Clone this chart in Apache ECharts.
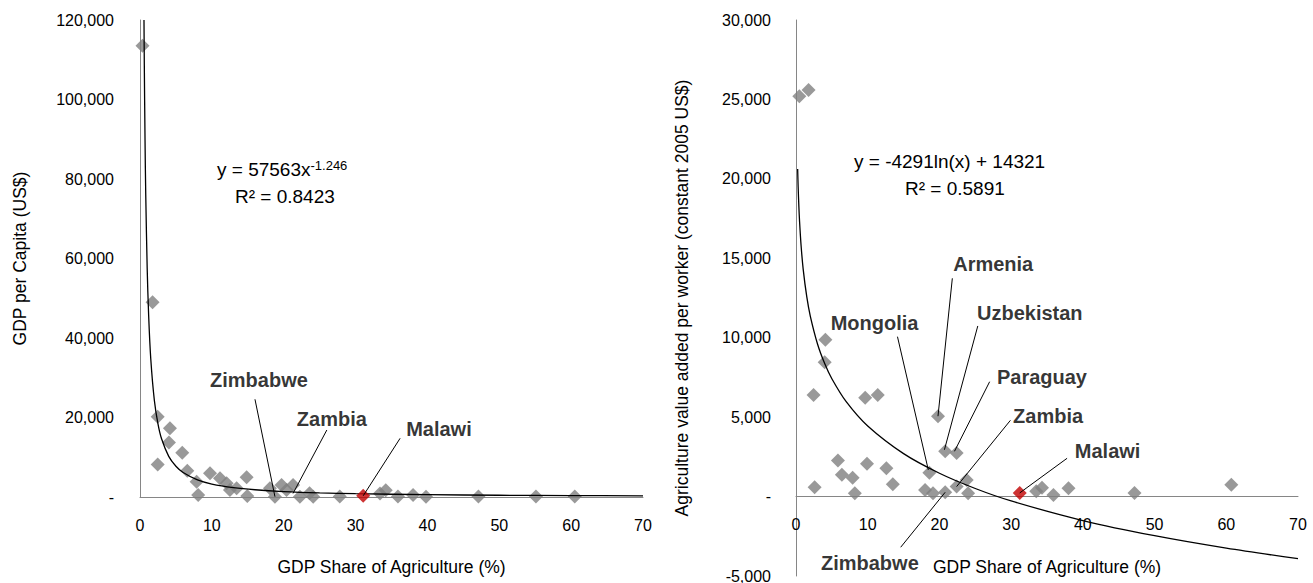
<!DOCTYPE html>
<html>
<head>
<meta charset="utf-8">
<title>GDP share of agriculture</title>
<style>
  html, body { margin: 0; padding: 0; background: #fff; }
  #main { width: 1313px; height: 583px; }
</style>
</head>
<body>
<div id="main"></div>
<script src="https://cdn.jsdelivr.net/npm/echarts@6/dist/echarts.min.js"></script>
<script>
// left panel: GDP per capita vs GDP share of agriculture
var leftPoints = [[0.35,113500],[1.75,49000],[2.46,20200],[2.46,8200],[4.17,17300],[4.03,13700],
  [5.88,11150],[6.58,6600],[7.88,3850],[8.1,500],[9.74,5960],[11.13,4700],[12.06,3440],[12.52,1760],
  [13.45,2180],[14.84,4950],[14.93,250],[18.08,2180],[18.78,80],[19.7,3020],[20.4,1760],[21.3,3020],
  [22.25,80],[23.6,930],[24.1,50],[27.8,100],[33.4,900],[34.2,1700],[35.9,100],[38,500],[39.8,50],
  [47.1,100],[55.1,100],[60.5,100]];
var leftMalawi = [[31.06,300]];
// power trendline
var leftTrendX = [0.555,0.6,0.7,0.8,1,1.2,1.5,2,2.5,3,4,5,6,8,10,13,16,20,25,30,40,50,60,70];
var leftTrendY = [120000,108800,89800,76000,57563,45870,34730,24270,18380,14640,10230,7750,6170,
  4315,3267,2357,1819,1377,1043,831,581,440,350,289];
var leftNotes = ['Zimbabwe','Zambia','Malawi'];
var leftNoteAt = [[16.55,29430],[26.7,19620],[41.6,17100]];
var leftLeaderFrom = [[16.0,24580],[26.0,16850],[36.2,14770]];
var leftLeaderTo = [[18.78,80],[21.3,900],[31.06,300]];

// right panel: agriculture value added per worker
var rightPoints = [[0.46,25200],[1.75,25600],[2.45,6400],[4.1,9870],[4.0,8460],[9.65,6215],
  [11.4,6400],[19.8,5060],[20.8,2850],[22.4,2750],[5.85,2270],[9.9,2060],[12.6,1780],[6.4,1370],
  [7.9,1180],[18.6,1500],[13.5,780],[2.6,590],[8.2,210],[18.0,420],[19.1,210],[20.8,270],
  [22.4,630],[23.8,1050],[24.0,210],[33.5,330],[34.3,550],[35.9,100],[38,520],[47.2,230],[60.7,740]];
var rightMalawi = [[31.2,230]];
var rightTrendX = [0.23,0.3,0.4,0.5,0.7,1,1.5,2,3,4,5,7,10,15,20,25,30,40,50,60,70];
var rightTrendY = [20627,19487,18253,17295,15852,14321,12581,11347,9607,8372,7415,5971,4441,
  2701,1466,509,-274,-1508,-2465,-3248,-3909];
var rightNotes = ['Armenia','Mongolia','Uzbekistan','Paraguay','Zambia','Zimbabwe','Malawi'];
var rightNoteAt = [[27.5,14640],[10.95,10950],[32.6,11560],[34.3,7550],[35.15,5070],[10.3,-4180],[43.45,2870]];
var rightLeaderFrom = [[21.8,13740],[14.15,10065],[25.35,10740],[27.0,7230],[29.9,4800],[14.6,-3190],[37.8,2410]];
var rightLeaderTo = [[19.8,5060],[18.45,1675],[20.7,2950],[22.1,2850],[22.4,630],[20.8,270],[31.2,230]];

var xTicks = { min: 0, max: 70, interval: 10 };
var rightY = { min: -5000, max: 30000, interval: 5000 };
var FONT = '"Liberation Sans", Arial, sans-serif';
var GREY = '#7f7f7f';
var AXIS = '#868686';
var rightGrid = { left: 796, top: 20, width: 502, height: 556, outerBoundsMode: 'none' };

var myChart = echarts.init(document.getElementById('main'), null, { renderer: 'svg' });

function zip(xs, ys) {
    return xs.map(function (x, i) { return [x, ys[i]]; });
}
function thousands(v) {
    if (v === 0) return '-';
    return v.toLocaleString('en-US');
}
function noteSeries(idx, names, at, from, to) {
    return {
        type: 'scatter',
        xAxisIndex: idx, yAxisIndex: idx,
        symbolSize: 1,
        itemStyle: { color: 'transparent' },
        z: 5,
        data: names.map(function (n, i) { return { name: n, value: at[i] }; }),
        label: {
            show: true, position: 'inside', formatter: '{b}',
            color: '#000', fontSize: 20, fontWeight: 'bold', fontFamily: FONT
        },
        markLine: {
            silent: true,
            symbol: ['none', 'none'],
            label: { show: false },
            lineStyle: { color: '#000', width: 1, type: 'solid' },
            data: from.map(function (f, i) { return [{ coord: f }, { coord: to[i] }]; })
        }
    };
}
// the right x axis sits on y = 0, labels included, as in the original
var rightZeroOffset = -rightGrid.height * (0 - rightY.min) / (rightY.max - rightY.min);

function xAxis(idx) {
    return {
        gridIndex: idx, type: 'value',
        min: xTicks.min, max: xTicks.max, interval: xTicks.interval,
        offset: idx === 0 ? 0 : rightZeroOffset,
        axisLine: { onZero: false, lineStyle: { color: AXIS, width: 1 } },
        axisTick: { show: false },
        splitLine: { show: false },
        axisLabel: { color: '#000', fontSize: 16, fontFamily: FONT, margin: 20 },
        name: 'GDP Share of Agriculture (%)',
        nameLocation: 'middle',
        nameGap: 61,
        nameTextStyle: { color: '#000', fontSize: 17.5, fontFamily: FONT }
    };
}

var option = {
    backgroundColor: '#fff',
    animation: false,
    grid: [
        { left: 140, top: 20, width: 503, height: 477, outerBoundsMode: 'none' },
        rightGrid
    ],
    xAxis: [xAxis(0), xAxis(1)],
    yAxis: [
        {
            gridIndex: 0, type: 'value', min: 0, max: 120000, interval: 20000,
            axisLine: { show: true, lineStyle: { color: AXIS } },
            axisTick: { show: false }, splitLine: { show: false },
            axisLabel: { color: '#000', fontSize: 16, fontFamily: FONT, margin: 26, formatter: thousands },
            name: 'GDP per Capita (US$)', nameLocation: 'middle', nameGap: 111,
            nameTextStyle: { color: '#000', fontSize: 17.5, fontFamily: FONT }
        },
        {
            gridIndex: 1, type: 'value', min: rightY.min, max: rightY.max, interval: rightY.interval,
            axisLine: { show: true, onZero: false, lineStyle: { color: AXIS } },
            axisTick: { show: false }, splitLine: { show: false },
            axisLabel: { color: '#000', fontSize: 16, fontFamily: FONT, margin: 25, formatter: thousands },
            name: 'Agriculture value added per worker (constant 2005 US$)',
            nameLocation: 'middle', nameGap: 105,
            nameTextStyle: { color: '#000', fontSize: 17.5, fontFamily: FONT }
        }
    ],
    graphic: [
        { type: 'text', left: 217, top: 159, style: { text: 'y = 57563x{sup|-1.246}',
            font: '19px ' + FONT, fill: '#000',
            rich: { sup: { fontSize: 13, verticalAlign: 'top', lineHeight: 21, fontFamily: FONT } } } },
        { type: 'text', left: 235, top: 187, style: { text: 'R² = 0.8423', font: '19px ' + FONT, fill: '#000' } },
        { type: 'text', left: 854, top: 152, style: { text: 'y = -4291ln(x) + 14321', font: '19px ' + FONT, fill: '#000' } },
        { type: 'text', left: 905, top: 179, style: { text: 'R² = 0.5891', font: '19px ' + FONT, fill: '#000' } }
    ],
    series: [
        {
            type: 'line', xAxisIndex: 0, yAxisIndex: 0, data: zip(leftTrendX, leftTrendY),
            smooth: 0.3, showSymbol: false, clip: true,
            lineStyle: { color: '#000', width: 1.3 }, z: 3
        },
        {
            type: 'scatter', xAxisIndex: 0, yAxisIndex: 0, data: leftPoints,
            symbol: 'diamond', symbolSize: 14, itemStyle: { color: GREY }, z: 2
        },
        {
            type: 'scatter', xAxisIndex: 0, yAxisIndex: 0, data: leftMalawi,
            symbol: 'diamond', symbolSize: 14, itemStyle: { color: '#c00000' }, z: 4
        },
        noteSeries(0, leftNotes, leftNoteAt, leftLeaderFrom, leftLeaderTo),
        {
            type: 'line', xAxisIndex: 1, yAxisIndex: 1, data: zip(rightTrendX, rightTrendY),
            smooth: 0.3, showSymbol: false, clip: true,
            lineStyle: { color: '#000', width: 1.3 }, z: 3
        },
        {
            type: 'scatter', xAxisIndex: 1, yAxisIndex: 1, data: rightPoints,
            symbol: 'diamond', symbolSize: 14, itemStyle: { color: GREY }, z: 2
        },
        {
            type: 'scatter', xAxisIndex: 1, yAxisIndex: 1, data: rightMalawi,
            symbol: 'diamond', symbolSize: 14, itemStyle: { color: '#c00000' }, z: 4
        },
        noteSeries(1, rightNotes, rightNoteAt, rightLeaderFrom, rightLeaderTo)
    ]
};

myChart.setOption(option);
window.addEventListener('resize', function () {
    myChart.resize();
});
</script>
</body>
</html>
